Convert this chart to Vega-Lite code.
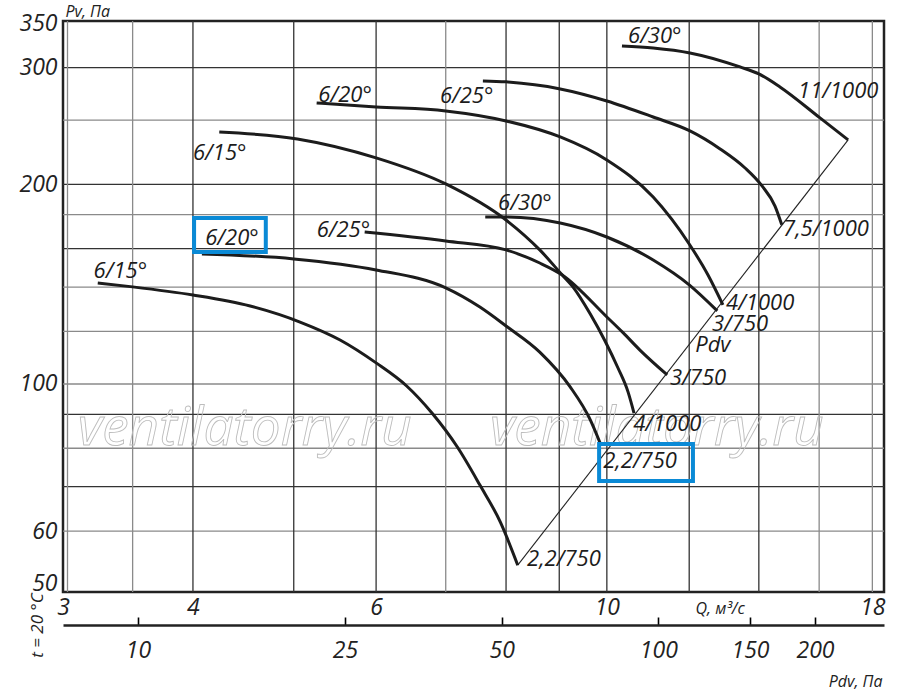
{
  "$schema": "https://vega.github.io/schema/vega-lite/v6.json",
  "width": 821,
  "height": 571,
  "autosize": {"type": "none"},
  "padding": {"left": 63, "top": 21, "right": 16, "bottom": 101},
  "background": "white",
  "config": {"view": {"stroke": "#222222", "strokeWidth": 2.5}, "font": "Open Sans"},
  "datasets": {
    "curves": [
      {"c": "L15", "q": 3.24, "p": 142.0}, {"c": "L15", "q": 3.50, "p": 140.1}, {"c": "L15", "q": 4.00, "p": 136.2}, {"c": "L15", "q": 4.54, "p": 131.1}, {"c": "L15", "q": 5.07, "p": 124.0}, {"c": "L15", "q": 5.54, "p": 116.5}, {"c": "L15", "q": 6.00, "p": 107.6}, {"c": "L15", "q": 6.42, "p": 99.3}, {"c": "L15", "q": 6.79, "p": 90.4}, {"c": "L15", "q": 7.18, "p": 80.4}, {"c": "L15", "q": 7.55, "p": 70.4}, {"c": "L15", "q": 7.90, "p": 61.9}, {"c": "L15", "q": 8.21, "p": 53.3},
      {"c": "L20", "q": 4.08, "p": 157.1}, {"c": "L20", "q": 5.00, "p": 154.4}, {"c": "L20", "q": 6.00, "p": 148.6}, {"c": "L20", "q": 7.00, "p": 139.6}, {"c": "L20", "q": 7.55, "p": 130.6}, {"c": "L20", "q": 8.00, "p": 122.3}, {"c": "L20", "q": 8.62, "p": 111.7}, {"c": "L20", "q": 9.22, "p": 99.0}, {"c": "L20", "q": 9.64, "p": 88.3}, {"c": "L20", "q": 9.87, "p": 80.9},
      {"c": "L25", "q": 5.85, "p": 169.5}, {"c": "L25", "q": 7.00, "p": 164.3}, {"c": "L25", "q": 8.00, "p": 159.3}, {"c": "L25", "q": 8.62, "p": 152.2}, {"c": "L25", "q": 9.06, "p": 146.0}, {"c": "L25", "q": 10.0, "p": 126.2}, {"c": "L25", "q": 10.37, "p": 119.4}, {"c": "L25", "q": 10.76, "p": 112.5}, {"c": "L25", "q": 11.43, "p": 103.2},
      {"c": "L30", "q": 7.64, "p": 178.6}, {"c": "L30", "q": 8.00, "p": 178.6}, {"c": "L30", "q": 9.02, "p": 174.9}, {"c": "L30", "q": 10.0, "p": 166.6}, {"c": "L30", "q": 11.08, "p": 153.8}, {"c": "L30", "q": 12.0, "p": 141.1}, {"c": "L30", "q": 12.77, "p": 128.9},
      {"c": "U15", "q": 4.24, "p": 239.9}, {"c": "U15", "q": 5.04, "p": 234.2}, {"c": "U15", "q": 6.00, "p": 219.3}, {"c": "U15", "q": 7.00, "p": 200.3}, {"c": "U15", "q": 8.00, "p": 176.7}, {"c": "U15", "q": 8.62, "p": 159.3}, {"c": "U15", "q": 9.06, "p": 146.0}, {"c": "U15", "q": 9.28, "p": 140.0}, {"c": "U15", "q": 9.64, "p": 127.5}, {"c": "U15", "q": 9.96, "p": 116.1}, {"c": "U15", "q": 10.25, "p": 105.7}, {"c": "U15", "q": 10.48, "p": 97.3}, {"c": "U15", "q": 10.62, "p": 90.4},
      {"c": "U20", "q": 5.26, "p": 265.3}, {"c": "U20", "q": 6.00, "p": 261.7}, {"c": "U20", "q": 7.00, "p": 258.1}, {"c": "U20", "q": 8.00, "p": 249.3}, {"c": "U20", "q": 9.02, "p": 235.8}, {"c": "U20", "q": 10.0, "p": 217.7}, {"c": "U20", "q": 11.08, "p": 191.4}, {"c": "U20", "q": 12.0, "p": 162.6}, {"c": "U20", "q": 12.51, "p": 146.0}, {"c": "U20", "q": 12.93, "p": 131.6},
      {"c": "U25", "q": 7.60, "p": 286.4}, {"c": "U25", "q": 8.00, "p": 285.5}, {"c": "U25", "q": 9.02, "p": 278.6}, {"c": "U25", "q": 10.0, "p": 267.2}, {"c": "U25", "q": 11.08, "p": 252.7}, {"c": "U25", "q": 12.02, "p": 240.8}, {"c": "U25", "q": 12.85, "p": 226.2}, {"c": "U25", "q": 13.58, "p": 211.7}, {"c": "U25", "q": 14.10, "p": 198.9}, {"c": "U25", "q": 14.51, "p": 185.5}, {"c": "U25", "q": 14.73, "p": 173.8},
      {"c": "U30", "q": 10.34, "p": 323.5}, {"c": "U30", "q": 11.08, "p": 321.2}, {"c": "U30", "q": 12.02, "p": 315.7}, {"c": "U30", "q": 13.43, "p": 300.7}, {"c": "U30", "q": 14.0, "p": 293.5}, {"c": "U30", "q": 14.67, "p": 280.5}, {"c": "U30", "q": 16.03, "p": 251.9}, {"c": "U30", "q": 17.06, "p": 233.4}
    ],
    "pdvline": [{"q": 8.21, "p": 53.3}, {"q": 17.06, "p": 233.4}],
    "vdark": [{"q": 4}, {"q": 5}, {"q": 6}, {"q": 8}, {"q": 9}, {"q": 10}, {"q": 12}, {"q": 14}],
    "vgray": [{"q": 3.03}, {"q": 3.5}, {"q": 7}, {"q": 16}, {"q": 18}],
    "hdark": [{"p": 70}, {"p": 90}, {"p": 160}, {"p": 200}, {"p": 300}],
    "hgray": [{"p": 60}, {"p": 80}, {"p": 100}, {"p": 120}, {"p": 140}, {"p": 180}, {"p": 250}],
    "labels": [
      {"t": "6/15°", "q": 3.21, "p": 144.5}, {"t": "6/20°", "q": 4.11, "p": 162.1}, {"t": "6/25°", "q": 5.26, "p": 166.6}, {"t": "6/30°", "q": 7.86, "p": 183.0},
      {"t": "6/15°", "q": 4.0, "p": 217.7}, {"t": "6/20°", "q": 5.28, "p": 266.3}, {"t": "6/25°", "q": 6.91, "p": 265.3}, {"t": "6/30°", "q": 10.48, "p": 326.8},
      {"t": "11/1000", "q": 15.27, "p": 270.0}, {"t": "7,5/1000", "q": 14.77, "p": 167.2}, {"t": "4/1000", "q": 13.02, "p": 129.3}, {"t": "3/750", "q": 12.62, "p": 120.2},
      {"t": "Pdv", "q": 12.16, "p": 111.7}, {"t": "3/750", "q": 11.5, "p": 99.7}, {"t": "4/1000", "q": 10.6, "p": 84.9}, {"t": "2,2/750", "q": 9.92, "p": 74.7}, {"t": "2,2/750", "q": 8.38, "p": 53.1}
    ],
    "watermark": [{"t": "ventilatorry.ru", "q": 3.10, "p": 80.9}, {"t": "ventilatorry.ru", "q": 7.72, "p": 80.9}],
    "boxes": [{"q": 4.01, "q2": 4.70, "p": 158.2, "p2": 178.0}, {"q": 9.83, "q2": 12.1, "p": 71.4, "p2": 81.2}],
    "pdvticks": [{"pdv": 10}, {"pdv": 25}, {"pdv": 50}, {"pdv": 100}, {"pdv": 150}, {"pdv": 200}]
  },
  "layer": [
    {
      "layer": [
        {
          "data": {"name": "hgray"},
          "mark": {"type": "rule", "color": "#8a8a8a", "strokeWidth": 1.3},
          "encoding": {
            "y": {"field": "p", "type": "quantitative", "scale": {"type": "log", "domain": [48.56, 352.7], "nice": false},
              "axis": {"values": [50, 60, 100, 200, 300, 350], "format": "d", "ticks": false, "tickSize": 0, "domain": false, "grid": false,
                "labelFont": "Open Sans", "labelFontStyle": "italic", "labelFontSize": 23, "labelColor": "#222222", "labelPadding": 6, "labelOverlap": false,
                "title": "Pv, Па", "titleFont": "Open Sans", "titleFontStyle": "italic", "titleFontWeight": "normal", "titleFontSize": 16, "titleColor": "#222222",
                "titleAngle": 0, "titleX": 2, "titleY": -5, "titleAlign": "left", "titleBaseline": "alphabetic"}}
          }
        },
        {
          "data": {"name": "hdark"},
          "mark": {"type": "rule", "color": "#333333", "strokeWidth": 1.3},
          "encoding": {"y": {"field": "p", "type": "quantitative", "scale": {"type": "log", "domain": [48.56, 352.7], "nice": false}}}
        },
        {
          "data": {"name": "vgray"},
          "mark": {"type": "rule", "color": "#8a8a8a", "strokeWidth": 1.3},
          "encoding": {
            "x": {"field": "q", "type": "quantitative", "scale": {"type": "log", "domain": [3, 18.47], "nice": false},
              "axis": {"values": [3, 4, 6, 10, 18], "format": "d", "ticks": false, "tickSize": 0, "domain": false, "grid": false,
                "labelFont": "Open Sans", "labelFontStyle": "italic", "labelFontSize": 23, "labelColor": "#222222", "labelPadding": 4, "labelFlush": false, "labelOverlap": false,
                "title": "Q, м³/с", "titleFont": "Open Sans", "titleFontStyle": "italic", "titleFontWeight": "normal", "titleFontSize": 16, "titleColor": "#222222",
                "titleX": 632, "titleY": 21, "titleAlign": "left", "titleBaseline": "alphabetic"}}
          }
        },
        {
          "data": {"name": "vdark"},
          "mark": {"type": "rule", "color": "#333333", "strokeWidth": 1.3},
          "encoding": {"x": {"field": "q", "type": "quantitative", "scale": {"type": "log", "domain": [3, 18.47], "nice": false}}}
        },
        {
          "data": {"name": "watermark"},
          "mark": {"type": "text", "align": "left", "baseline": "alphabetic", "font": "Open Sans", "fontStyle": "italic", "fontSize": 53, "fill": "white", "fillOpacity": 0, "stroke": "#bdbdbd", "strokeWidth": 0.9},
          "encoding": {
            "x": {"field": "q", "type": "quantitative", "scale": {"type": "log", "domain": [3, 18.47], "nice": false}},
            "y": {"field": "p", "type": "quantitative", "scale": {"type": "log", "domain": [48.56, 352.7], "nice": false}},
            "text": {"field": "t"}
          }
        },
        {
          "data": {"name": "pdvline"},
          "mark": {"type": "line", "color": "#222222", "strokeWidth": 1.1},
          "encoding": {
            "x": {"field": "q", "type": "quantitative", "scale": {"type": "log", "domain": [3, 18.47], "nice": false}},
            "y": {"field": "p", "type": "quantitative", "scale": {"type": "log", "domain": [48.56, 352.7], "nice": false}}
          }
        },
        {
          "data": {"name": "curves"},
          "mark": {"type": "line", "color": "#1c1c1c", "strokeWidth": 3, "interpolate": "monotone"},
          "encoding": {
            "x": {"field": "q", "type": "quantitative", "scale": {"type": "log", "domain": [3, 18.47], "nice": false}},
            "y": {"field": "p", "type": "quantitative", "scale": {"type": "log", "domain": [48.56, 352.7], "nice": false}},
            "detail": {"field": "c"}
          }
        },
        {
          "data": {"name": "labels"},
          "mark": {"type": "text", "align": "left", "baseline": "alphabetic", "font": "Open Sans", "fontStyle": "italic", "fontSize": 22, "color": "#1c1c1c"},
          "encoding": {
            "x": {"field": "q", "type": "quantitative", "scale": {"type": "log", "domain": [3, 18.47], "nice": false}},
            "y": {"field": "p", "type": "quantitative", "scale": {"type": "log", "domain": [48.56, 352.7], "nice": false}},
            "text": {"field": "t"}
          }
        },
        {
          "data": {"name": "boxes"},
          "mark": {"type": "rect", "fill": "white", "fillOpacity": 0, "stroke": "#0a8ad6", "strokeWidth": 4},
          "encoding": {
            "x": {"field": "q", "type": "quantitative", "scale": {"type": "log", "domain": [3, 18.47], "nice": false}},
            "x2": {"field": "q2"},
            "y": {"field": "p", "type": "quantitative", "scale": {"type": "log", "domain": [48.56, 352.7], "nice": false}},
            "y2": {"field": "p2"}
          }
        }
      ]
    },
    {
      "data": {"name": "pdvticks"},
      "mark": {"type": "point", "opacity": 0},
      "encoding": {
        "x": {"field": "pdv", "type": "quantitative", "scale": {"type": "log", "domain": [7.18, 271.4], "nice": false},
          "axis": {"orient": "top", "offset": -604, "values": [10, 25, 50, 100, 150, 200], "format": "d",
            "domain": true, "domainColor": "#222222", "domainWidth": 2.5, "ticks": true, "tickSize": 8, "tickColor": "#000000", "tickWidth": 1.6, "tickOpacity": 1, "grid": false,
            "labelFont": "Open Sans", "labelFontStyle": "italic", "labelFontSize": 23, "labelColor": "#222222", "labelPadding": -22, "labelBaseline": "top", "labelFlush": false, "labelOverlap": false,
            "title": "Pdv, Па", "titleFont": "Open Sans", "titleFontStyle": "italic", "titleFontWeight": "normal", "titleFontSize": 16, "titleColor": "#222222",
            "titleX": 819, "titleY": 61, "titleAlign": "right", "titleBaseline": "alphabetic"}},
        "y": {"datum": 100, "type": "quantitative", "scale": {"type": "log", "domain": [48.56, 352.7], "nice": false},
          "axis": {"orient": "left", "labels": false, "ticks": false, "domain": false, "grid": false,
            "title": "t = 20 °C", "titleFont": "Open Sans", "titleFontStyle": "italic", "titleFontWeight": "normal", "titleFontSize": 17, "titleColor": "#222222",
            "titleAngle": -90, "titleX": -26, "titleY": 604, "titleAlign": "center", "titleBaseline": "middle"}}
      }
    }
  ],
  "resolve": {"scale": {"x": "independent"}, "axis": {"x": "independent", "y": "independent"}}
}
